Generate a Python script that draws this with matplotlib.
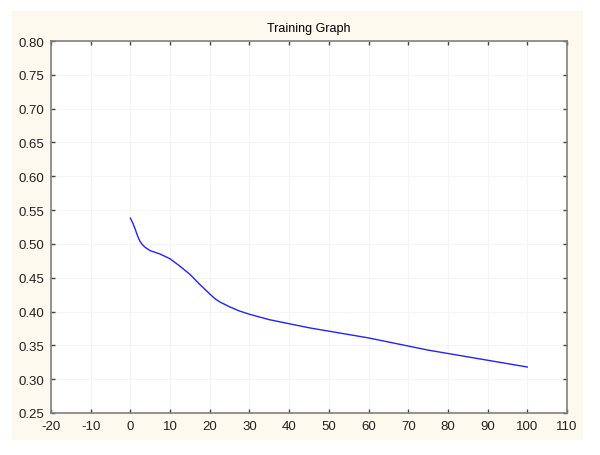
import numpy as np
import matplotlib
matplotlib.use('Agg')
import matplotlib.pyplot as plt
from matplotlib.patches import Rectangle

plt.rcParams['font.family'] = ['Liberation Sans', 'DejaVu Sans']
plt.rcParams['axes.unicode_minus'] = False

# training curve
epoch = [0, 0.6, 1.2, 1.8, 2.4, 3.0, 3.7, 5, 7.5, 10, 12.5, 15, 17.5, 20,
         21.3, 22.6, 25, 27.4, 30, 35, 40, 45, 50, 55, 60, 65, 70, 75, 80,
         85, 90, 95, 100]
error = [0.538, 0.531, 0.522, 0.512, 0.504, 0.499, 0.495, 0.490, 0.485, 0.478,
         0.467, 0.455, 0.440, 0.426, 0.419, 0.414, 0.407, 0.401, 0.396, 0.388,
         0.382, 0.376, 0.371, 0.366, 0.361, 0.355, 0.349, 0.343, 0.338, 0.333,
         0.328, 0.323, 0.318]

xticks = np.arange(-20, 111, 10)
yticks = np.arange(0.25, 0.801, 0.05)

fig = plt.figure(figsize=(6.0, 4.56), dpi=100)
fig.patch.set_facecolor('white')
# cream panel behind the plot
panel = Rectangle((12 / 600, 1 - 441 / 456), 571 / 600, 429 / 456,
                  transform=fig.transFigure, facecolor='#fdf9ef',
                  edgecolor='none', zorder=-10)
fig.add_artist(panel)

ax = fig.add_axes([51 / 600, 1 - 414 / 456, 516 / 600, 372 / 456])
ax.set_zorder(5)
ax.set_facecolor('white')
ax.plot(epoch, error, color='#2222ff', linewidth=1.0)

ax.set_xlim(-20, 110)
ax.set_ylim(0.25, 0.80)
ax.set_xticks(xticks)
ax.set_yticks(yticks)
ax.set_yticklabels(['{0:.2f}'.format(v) for v in yticks])
ax.grid(True, color='#f5f5f5', linewidth=0.8)
ax.tick_params(direction='in', length=3, width=1, color='#444444',
               top=True, right=True, labelsize=9.5, pad=5, labelcolor='#222222')
for sp in ax.spines.values():
    sp.set_color('#808080')
    sp.set_linewidth(1.2)

ax.set_title('Training Graph', fontsize=9, pad=7)

fig.savefig('out.png', dpi=100, facecolor=fig.get_facecolor())
